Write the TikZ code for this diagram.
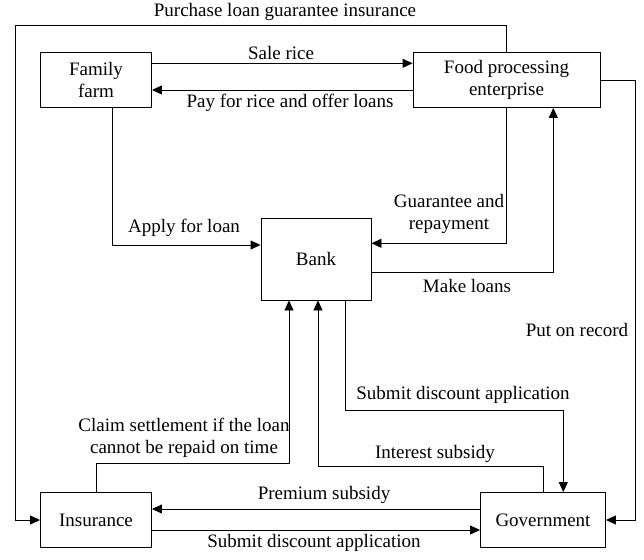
\documentclass[tikz,border=0pt]{standalone}
\usepackage{fontspec}
\setmainfont{Liberation Serif}
\usetikzlibrary{arrows.meta,positioning}
\newcommand{\figfont}{\fontsize{19}{22.5}\selectfont}
\tikzset{
  basebox/.style={rectangle,draw=black,line width=0.9pt,inner sep=0pt,
                  align=center,font=\figfont},
  smallnode/.style={basebox,minimum width=111pt,minimum height=55pt},
  widenode/.style={basebox,minimum width=187pt,minimum height=55pt},
  banknode/.style={basebox,minimum width=110pt,minimum height=82pt},
  govnode/.style={basebox,minimum width=125pt,minimum height=55pt},
  lbl/.style={inner sep=0pt,align=center,font=\figfont},
  arr/.style={-{Triangle[length=10pt,width=9pt]},line width=0.9pt}
}

\begin{document}
\begin{tikzpicture}[x=1pt,y=-1pt]
  \useasboundingbox (0,0) rectangle (644,559);

  % actors
  \node[smallnode] (farm) at (96,80) {Family\\farm};
  \node[widenode] (food) at (506.5,80) {Food processing\\enterprise};
  \node[banknode] (bank) at (316,259) {Bank};
  \node[smallnode] (ins) at (96,520) {Insurance};
  \node[govnode] (gov) at (543,520) {Government};

  \coordinate (topleft) at (15.7,25);
  \coordinate (rightrun) at (635.7,80);

  % flows
  \draw[arr] (food.north) |- (topleft) |- (ins.west);
  \draw[arr] ([yshift=16.7pt]farm.east) -- ([yshift=16.7pt]food.west);
  \draw[arr] ([yshift=-10pt]food.west) -- ([yshift=-10pt]farm.east);
  \draw[arr] ([xshift=16.7pt]farm.south) |- ([yshift=14pt]bank.west);
  \draw[arr] (food.south) |- ([yshift=15.7pt]bank.east);
  \draw[arr] ([yshift=-13.7pt]bank.east) -| ([xshift=46.8pt]food.south);
  \draw[arr] (food.east) -- (rightrun) |- (gov.east);
  \draw[arr] ([xshift=29pt]bank.south) -- ++(0,110) -| ([xshift=20.3pt]gov.north);
  \draw[arr] (gov.north) -- ++(0,-26) -| ([xshift=2pt]bank.south);
  \draw[arr] (ins.north) -- ++(0,-29) -| ([xshift=-27pt]bank.south);
  \draw[arr] ([yshift=11pt]gov.west) -- ([yshift=11pt]ins.east);
  \draw[arr] ([yshift=-10pt]ins.east) -- ([yshift=-10pt]gov.west);

  % labels
  \node[lbl] (lpurchase) at (285,12) {Purchase loan guarantee insurance};
  \node[lbl] (lsale) at (281,53) {Sale rice};
  \node[lbl] (lpay) at (290,103) {Pay for rice and offer loans};
  \node[lbl] (lapply) at (184,228) {Apply for loan};
  \node[lbl] (lguar) at (449,214) {Guarantee and\\repayment};
  \node[lbl] (lmake) at (467,286) {Make loans};
  \node[lbl] (lrecord) at (577,330) {Put on record};
  \node[lbl] (lsubmitgov) at (463,395) {Submit discount application};
  \node[lbl] (lclaim) at (184,438) {Claim settlement if the loan\\cannot be repaid on time};
  \node[lbl] (linterest) at (435,454) {Interest subsidy};
  \node[lbl] (lpremium) at (324,495) {Premium subsidy};
  \node[lbl] (lsubmitins) at (314,543) {Submit discount application};
\end{tikzpicture}
\end{document}
